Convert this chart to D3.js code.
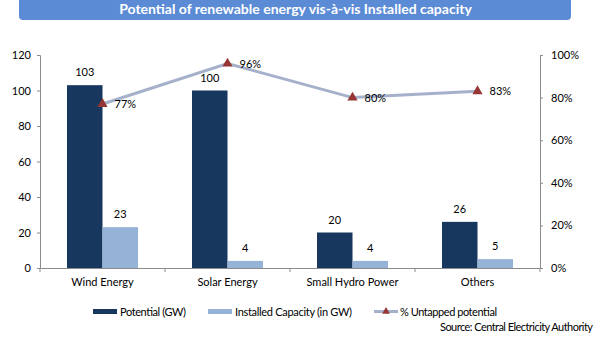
<!DOCTYPE html>
<html><head><meta charset="utf-8">
<script src="https://cdn.jsdelivr.net/npm/d3@7"></script>
<style>body{margin:0;background:#fff;}svg{display:block;font-family:Lato,"Open Sans",sans-serif;}</style>
</head><body>
<svg id="c" width="600" height="337"></svg>
<script>
const categories = ["Wind Energy","Solar Energy","Small Hydro Power","Others"];
const potential = [103,100,20,26];
const installed = [23,4,4,5];
const untapped = [0.77,0.96,0.80,0.83];
const leftTicks = [0,20,40,60,80,100,120];
const rightTicks = [0,0.2,0.4,0.6,0.8,1.0];
const title = "Potential of renewable energy vis-à-vis Installed capacity";
const legendLabels = ["Potential (GW)","Installed Capacity (in GW)","% Untapped potential"];
const source = "Source: Central Electricity Authority";

const svg = d3.select("#c");
const L=40, R=540, T=55, B=268;
const x = d3.scaleBand().domain(categories).range([L,R]);
const y = d3.scaleLinear().domain([0,120]).range([B,T]);
const y2 = d3.scaleLinear().domain([0,1]).range([B,T]);
const bw = 35.5;

// title banner
svg.append("path")
  .attr("d", `M19,-6 H571 V16 Q571,20 567,20 H23 Q19,20 19,16 Z`)
  .attr("fill","#5b8bd5");
svg.append("text").attr("x",295.5).attr("y",14).attr("text-anchor","middle")
  .attr("fill","#fff").attr("font-weight","bold").attr("font-size",14).text(title);

const axisCol="#8c8c8c";
const gl = svg.append("g").attr("transform",`translate(${L},0)`).call(d3.axisLeft(y).tickValues(leftTicks).tickSize(3).tickPadding(6));
const gr = svg.append("g").attr("transform",`translate(${R},0)`).call(d3.axisRight(y2).tickValues(rightTicks).tickSize(3).tickPadding(8).tickFormat(d3.format(".0%")));
const gb = svg.append("g").attr("transform",`translate(0,${B})`).call(d3.axisBottom(x).tickSize(0).tickPadding(10));
[gl,gr,gb].forEach(g=>{
  g.select(".domain").attr("stroke",axisCol).attr("stroke-width",1);
  g.selectAll(".tick line").attr("stroke",axisCol);
  g.selectAll("text").attr("fill","#000").attr("font-size",11).attr("font-family","Lato,'Open Sans',sans-serif");
});
svg.append("g").selectAll("line").data(d3.range(categories.length+1)).join("line")
  .attr("x1",i=>L+i*x.bandwidth()).attr("x2",i=>L+i*x.bandwidth())
  .attr("y1",B).attr("y2",B+4).attr("stroke",axisCol);

const cx = d => x(d)+x.bandwidth()/2;
svg.append("g").selectAll("rect").data(categories).join("rect")
  .attr("x",d=>cx(d)-bw).attr("width",bw)
  .attr("y",(d,i)=>y(potential[i])).attr("height",(d,i)=>B-y(potential[i]))
  .attr("fill","#17375e");
svg.append("g").selectAll("rect").data(categories).join("rect")
  .attr("x",d=>cx(d)).attr("width",bw)
  .attr("y",(d,i)=>y(installed[i])).attr("height",(d,i)=>B-y(installed[i]))
  .attr("fill","#95b3d7");
svg.append("g").selectAll("text").data(categories).join("text")
  .attr("x",d=>cx(d)-bw/2).attr("y",(d,i)=>y(potential[i])-9)
  .attr("text-anchor","middle").attr("font-size",11).text((d,i)=>potential[i]);
svg.append("g").selectAll("text").data(categories).join("text")
  .attr("x",d=>cx(d)+bw/2).attr("y",(d,i)=>y(installed[i])-9)
  .attr("text-anchor","middle").attr("font-size",11).text((d,i)=>installed[i]);

const line = d3.line().x((d,i)=>cx(categories[i])).y(d=>y2(d));
svg.append("path").datum(untapped).attr("d",line).attr("fill","none")
  .attr("stroke","#a5b0cb").attr("stroke-width",3);
const tri = d3.symbol().type(d3.symbolTriangle).size(45);
svg.append("g").selectAll("path").data(untapped).join("path")
  .attr("transform",(d,i)=>`translate(${cx(categories[i])},${y2(d)})`)
  .attr("d",tri).attr("fill","#963634");
svg.append("g").selectAll("text").data(untapped).join("text")
  .attr("x",(d,i)=>cx(categories[i])+12).attr("y",d=>y2(d)+4)
  .attr("font-size",11).text(d=>Math.round(d*100)+"%");

// legend
const ly = 311.5;
svg.append("rect").attr("x",93).attr("y",ly-2.5).attr("width",24).attr("height",5).attr("fill","#17375e");
svg.append("text").attr("x",120).attr("y",ly+4).attr("font-size",11).attr("textLength",66).text(legendLabels[0]);
svg.append("rect").attr("x",208).attr("y",ly-2.5).attr("width",24).attr("height",5).attr("fill","#95b3d7");
svg.append("text").attr("x",235).attr("y",ly+4).attr("font-size",11).attr("textLength",117).text(legendLabels[1]);
svg.append("line").attr("x1",374).attr("x2",398).attr("y1",ly).attr("y2",ly).attr("stroke","#a5b0cb").attr("stroke-width",3);
svg.append("path").attr("transform",`translate(386,${ly})`).attr("d",d3.symbol().type(d3.symbolTriangle).size(25)).attr("fill","#963634");
svg.append("text").attr("x",400).attr("y",ly+4).attr("font-size",11).attr("textLength",97).text(legendLabels[2]);
svg.append("text").attr("x",440).attr("y",331).attr("font-size",11).attr("textLength",153).text(source);
</script>
</body></html>
